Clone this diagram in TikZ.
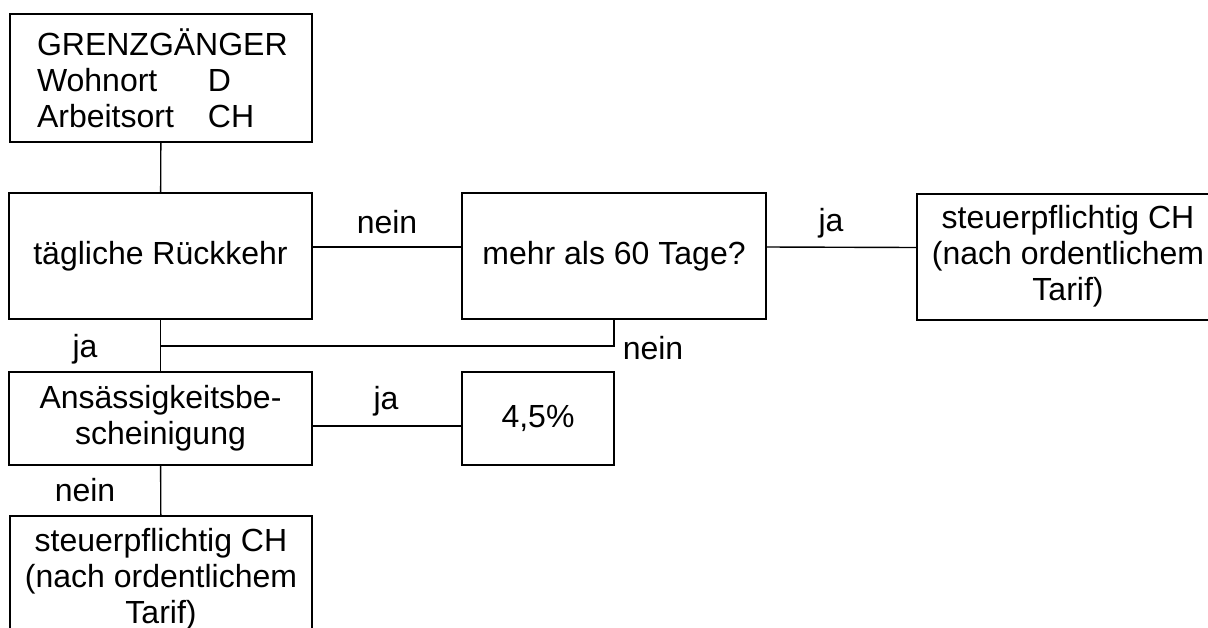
\documentclass[tikz,border=0pt]{standalone}
\usepackage{fontspec}
\setmainfont{Liberation Sans}
\usepackage{tikz}
\usetikzlibrary{positioning}

\tikzset{
	kasten/.style={draw, line width=1pt, align=center, minimum height=63pt, inner sep=0pt},
	verbinder/.style={line width=0.7pt},
	antwort/.style={inner sep=0pt}
}

\begin{document}
\begin{tikzpicture}[x=0.5pt, y=-0.5pt, font=\fontsize{16pt}{18pt}\selectfont]
			\clip (0,0) rectangle (1208,627);
			% Kaesten
			\node[kasten, align=left, text width=124pt, inner xsep=13.5pt, minimum height=64pt] (grenz) at (161, 78)
				{GRENZGÄNGER\\\makebox[85.5pt][l]{Wohnort}D\\\makebox[85.5pt][l]{Arbeitsort}CH};
			\node[kasten, minimum width=151.5pt] (rueck) at (160.5, 256) {tägliche Rückkehr};
			\node[kasten, minimum width=152pt] (tage) at (614, 256) {mehr als 60 Tage?};
			\node[kasten, minimum width=151pt] (steuer1) at (1068, 256.5) {steuerpflichtig CH\\(nach ordentlichem\\Tarif)};
			\node[kasten, minimum width=151.5pt, minimum height=46.5pt] (ansaess) at (160.5, 418.5) {Ansässigkeitsbe-\\scheinigung};
			\node[kasten, minimum width=76pt, minimum height=46.5pt] (satz) at (538, 418.5) {4,5\%};
			\node[kasten, minimum width=151pt] (steuer2) at (161, 579) {steuerpflichtig CH\\(nach ordentlichem\\Tarif)};
			\coordinate (knick) at (161, 346);

			% Antworten
			\node[antwort] (nein1) at (387, 222) {nein};
			\node[antwort] (ja1) at (831, 223) {ja};
			\node[antwort] (ja2) at (85, 349) {ja};
			\node[antwort] (nein2) at (653, 348) {nein};
			\node[antwort] (ja3) at (386, 401) {ja};
			\node[antwort] (nein3) at (85, 490) {nein};

			% Linien
			\draw [verbinder] (grenz) to (rueck);
			\draw [verbinder] ([yshift=4.5pt]rueck.east) to ([yshift=4.5pt]tage.west);
			\draw [verbinder] ([yshift=4.5pt]tage.east) to ([yshift=4.5pt]steuer1.west);
			\draw [verbinder] (rueck) to (ansaess);
			\draw [verbinder] (tage.south) |- (knick);
			\draw [verbinder] ([yshift=-3.75pt]ansaess.east) to ([yshift=-3.75pt]satz.west);
			\draw [verbinder] (ansaess) to (steuer2);
	\end{tikzpicture}
\end{document}
